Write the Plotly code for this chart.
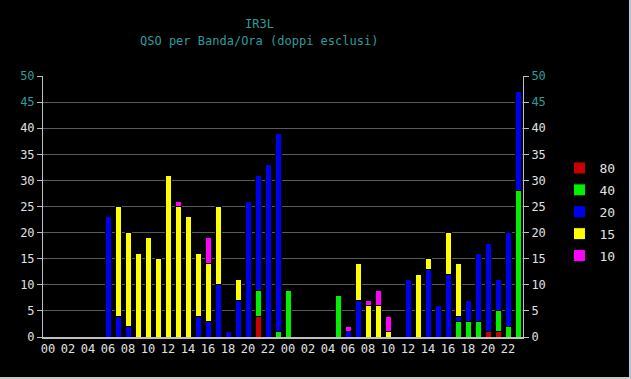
import plotly.graph_objects as go

hour_labels = ["00","01","02","03","04","05","06","07","08","09","10","11",
               "12","13","14","15","16","17","18","19","20","21","22","23",
               "00","01","02","03","04","05","06","07","08","09","10","11",
               "12","13","14","15","16","17","18","19","20","21","22","23"]

band_80 = [0,0,0,0,0,0,0,0,0,0,0,0, 0,0,0,0,0,0,0,0,0,4,0,0,
           0,0,0,0,0,0,0,0,0,0,0,0, 0,0,0,0,0,0,0,0,1,1,0,0]
band_40 = [0,0,0,0,0,0,0,0,0,0,0,0, 0,0,0,0,0,0,0,0,0,5,0,1,
           9,0,0,0,0,8,0,0,0,0,0,0, 0,0,0,0,0,3,3,3,0,4,2,28]
band_20 = [0,0,0,0,0,0,23,4,2,0,0,0, 0,0,0,4,3,10,1,7,26,22,33,38,
           0,0,0,0,0,0,1,7,0,0,0,0, 11,0,13,6,12,1,4,13,17,6,18,19]
band_15 = [0,0,0,0,0,0,0,21,18,16,19,15, 31,25,23,12,11,15,0,4,0,0,0,0,
           0,0,0,0,0,0,0,7,6,6,1,0, 0,12,2,0,8,10,0,0,0,0,0,0]
band_10 = [0,0,0,0,0,0,0,0,0,0,0,0, 0,1,0,0,5,0,0,0,0,0,0,0,
           0,0,0,0,0,0,1,0,1,3,3,0, 0,0,0,0,0,0,0,0,0,0,0,0]

series = [("80", band_80, "#c80000"),
          ("40", band_40, "#00f000"),
          ("20", band_20, "#0000f0"),
          ("15", band_15, "#ffff00"),
          ("10", band_10, "#ff00ff")]

y_ticks = [0, 5, 10, 15, 20, 25, 30, 35, 40, 45, 50]

TEAL = "#2e9c9c"
LIGHT = "#e0e0e0"
FONT = "DejaVu Sans Mono"

x_idx = list(range(len(hour_labels)))

fig = go.Figure()
for name, vals, col in series:
    fig.add_trace(go.Bar(
        x=x_idx, y=vals, name=name, legendgroup=name,
        marker=dict(color=col, line=dict(color="#000000", width=1)),
    ))

# invisible trace for right axis
fig.add_trace(go.Scatter(x=[0], y=[0], yaxis="y2", mode="markers",
                         marker=dict(opacity=0), showlegend=False, hoverinfo="skip"))

ytext = [f'<span style="color:{TEAL}">{v}</span>' if v >= 45 else str(v) for v in y_ticks]

axis_common = dict(
    range=[0, 50], tickvals=y_ticks, ticktext=ytext,
    showline=True, linecolor="#c0c0c0", linewidth=1,
    ticks="outside", ticklen=5, tickcolor="#c0c0c0",
    tickfont=dict(family=FONT, size=12, color=LIGHT),
    zeroline=False, fixedrange=True, automargin=False,
)

fig.update_layout(
    width=631, height=379, autosize=False,
    paper_bgcolor="#000000", plot_bgcolor="#000000",
    margin=dict(l=43, r=108, t=76, b=42, autoexpand=False),
    barmode="stack", bargap=0.4,
    showlegend=True,
    legend=dict(x=1.076, y=0.705, xanchor="left", yanchor="top",
                font=dict(family=FONT, size=13, color=LIGHT),
                bgcolor="rgba(0,0,0,0)", traceorder="grouped", tracegroupgap=2),
    xaxis=dict(range=[-0.5, 47.5], tickvals=x_idx[::2], ticktext=hour_labels[::2],
               showline=True, linecolor="#c0c0c0", linewidth=2,
               ticks="", showgrid=False, zeroline=False,
               tickfont=dict(family=FONT, size=12, color=LIGHT), tickangle=0,
               fixedrange=True, automargin=False),
    yaxis=dict(side="left", showgrid=True, gridcolor="#5a5a5a", gridwidth=1, **axis_common),
    yaxis2=dict(side="right", overlaying="y", showgrid=False, **axis_common),
    annotations=[
        dict(text="IR3L", xref="paper", yref="paper", x=0.45, y=1.199,
             xanchor="center", yanchor="middle", showarrow=False,
             font=dict(family=FONT, size=12, color=TEAL)),
        dict(text="QSO per Banda/Ora (doppi esclusi)", xref="paper", yref="paper",
             x=0.45, y=1.134, xanchor="center", yanchor="middle", showarrow=False,
             font=dict(family=FONT, size=12, color=TEAL)),
    ],
    shapes=[
        dict(type="rect", xref="paper", yref="paper", x0=1.2208, x1=1.24, y0=-0.2, y1=1.4,
             fillcolor="#b8c4d8", line=dict(width=0), layer="above"),
        dict(type="rect", xref="paper", yref="paper", x0=-0.2, x1=1.24, y0=-0.1536, y1=-0.2,
             fillcolor="#c8c8c8", line=dict(width=0), layer="above"),
    ],
)

fig.write_html("out.html",
               config={"displayModeBar": False, "responsive": False},
               post_script="document.body.style.margin='0';document.body.style.padding='0';"
                           "document.body.style.overflow='hidden';"
                           "document.documentElement.style.overflow='hidden';"
                           "document.body.style.background='#000';")
